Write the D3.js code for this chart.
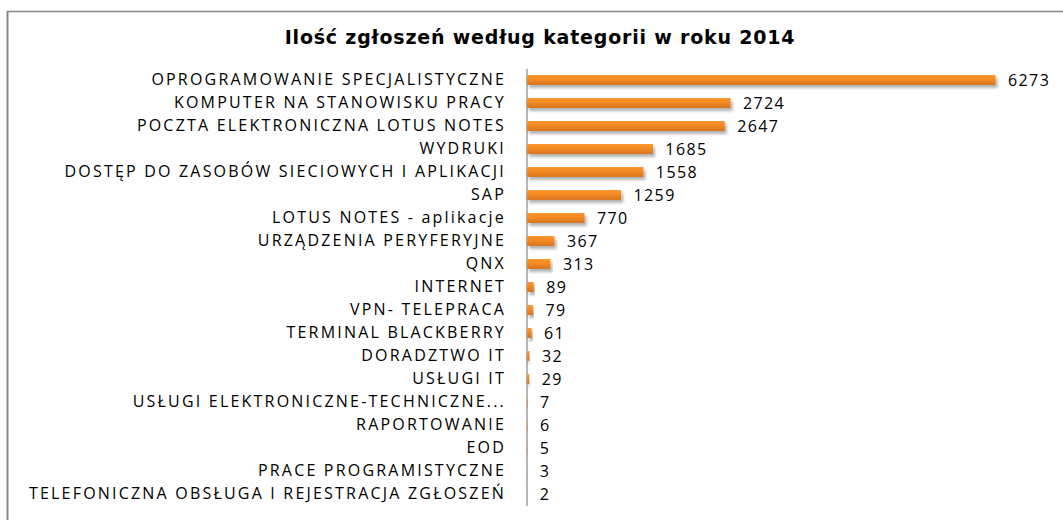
<!DOCTYPE html>
<html>
<head>
<meta charset="utf-8">
<script src="https://cdn.jsdelivr.net/npm/d3@7"></script>
<style>
  html, body { margin: 0; padding: 0; background: #fff; }
  svg { display: block; }
</style>
</head>
<body>
<script>
// Zgłoszenia według kategorii, 2014
const categories = [
  "OPROGRAMOWANIE SPECJALISTYCZNE",
  "KOMPUTER NA STANOWISKU PRACY",
  "POCZTA ELEKTRONICZNA LOTUS NOTES",
  "WYDRUKI",
  "DOSTĘP DO ZASOBÓW SIECIOWYCH I APLIKACJI",
  "SAP",
  "LOTUS NOTES - aplikacje",
  "URZĄDZENIA PERYFERYJNE",
  "QNX",
  "INTERNET",
  "VPN- TELEPRACA",
  "TERMINAL BLACKBERRY",
  "DORADZTWO IT",
  "USŁUGI IT",
  "USŁUGI ELEKTRONICZNE-TECHNICZNE...",
  "RAPORTOWANIE",
  "EOD",
  "PRACE PROGRAMISTYCZNE",
  "TELEFONICZNA OBSŁUGA I REJESTRACJA ZGŁOSZEŃ"
];
const counts = [6273, 2724, 2647, 1685, 1558, 1259, 770, 367, 313, 89, 79, 61, 32, 29, 7, 6, 5, 3, 2];
const titleText = "Ilość zgłoszeń według kategorii w roku 2014";

const W = 1063, H = 520;
const svg = d3.select("body").append("svg").attr("width", W).attr("height", H);

const defs = svg.append("defs");
const grad = defs.append("linearGradient").attr("id", "barFill")
  .attr("x1", 0).attr("y1", 0).attr("x2", 0).attr("y2", 1);
grad.append("stop").attr("offset", "0%").attr("stop-color", "#F9952A");
grad.append("stop").attr("offset", "45%").attr("stop-color", "#F48A24");
grad.append("stop").attr("offset", "100%").attr("stop-color", "#D8741E");

const shadow = defs.append("filter").attr("id", "barShadow")
  .attr("x", "-5%").attr("y", "-50%").attr("width", "115%").attr("height", "250%");
shadow.append("feDropShadow").attr("dx", 2).attr("dy", 3)
  .attr("stdDeviation", 1.6).attr("flood-color", "#000").attr("flood-opacity", 0.3);

// Chart frame (top and left edges)
svg.append("line").attr("x1", 7).attr("x2", W).attr("y1", 11.5).attr("y2", 11.5)
  .attr("stroke", "#868686").attr("stroke-width", 1.5);
svg.append("line").attr("x1", 7.5).attr("x2", 7.5).attr("y1", 11).attr("y2", H)
  .attr("stroke", "#868686").attr("stroke-width", 2);

svg.append("text")
  .attr("x", 540).attr("y", 44)
  .attr("text-anchor", "middle")
  .attr("font-family", "DejaVu Sans, Verdana, sans-serif")
  .attr("font-weight", "bold")
  .attr("font-size", 19)
  .attr("letter-spacing", 0.8)
  .attr("fill", "#000")
  .text(titleText);

const x = d3.scaleLinear().domain([0, 6273]).range([526.5, 995]);
const y = d3.scaleBand().domain(categories).range([68.5, 505.5]).paddingInner(0.57).paddingOuter(0.285);

// Category axis
const yAxis = d3.axisLeft(y).tickSize(0).tickPadding(20.5);
const gy = svg.append("g").attr("transform", `translate(${x(0)},0)`).call(yAxis);
gy.select(".domain").attr("stroke", "#868686").attr("stroke-width", 1.2);
gy.selectAll("text")
  .attr("font-family", "Open Sans, sans-serif")
  .attr("font-size", 16)
  .attr("letter-spacing", 2.2)
  .attr("fill", "#000");

// Bars
svg.append("g").selectAll("rect")
  .data(counts)
  .join("rect")
  .attr("x", x(0) + 0.6)
  .attr("y", (d, i) => y(categories[i]))
  .attr("width", d => Math.max(0, x(d) - x(0)))
  .attr("height", y.bandwidth())
  .attr("fill", "url(#barFill)")
  .attr("filter", "url(#barShadow)");

// Value labels
svg.append("g").selectAll("text")
  .data(counts)
  .join("text")
  .attr("x", d => x(d) + 13)
  .attr("y", (d, i) => y(categories[i]) + y.bandwidth() / 2)
  .attr("dy", "0.4em")
  .attr("font-family", "Open Sans, sans-serif")
  .attr("font-size", 16)
  .attr("letter-spacing", 1.4)
  .attr("fill", "#000")
  .text(d => d);
</script>
</body>
</html>
